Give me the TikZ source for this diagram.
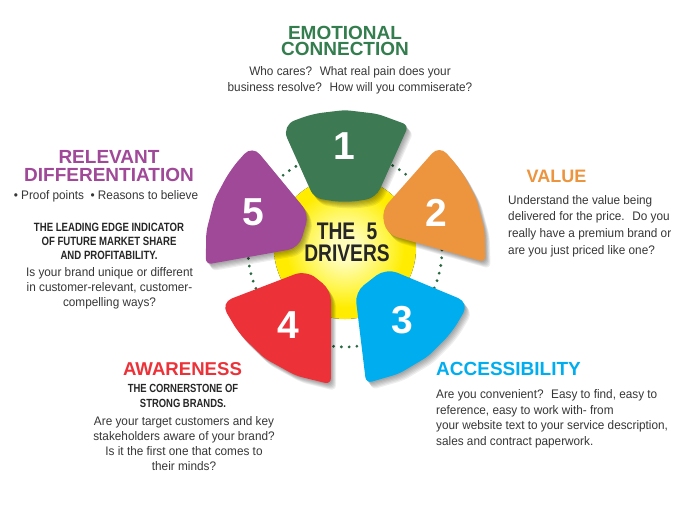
\documentclass[tikz,border=0pt]{standalone}
\usepackage{fontspec}
\setmainfont{Liberation Sans}
\newfontfamily\condfont{Liberation Sans}[FakeStretch=0.8]
\newfontfamily\bodyfont{Liberation Sans}[FakeStretch=0.95]
\definecolor{cgreen}{RGB}{61,122,84}
\definecolor{hgreen}{RGB}{52,125,78}
\definecolor{corange}{RGB}{236,148,62}
\definecolor{cblue}{RGB}{0,174,239}
\definecolor{cred}{RGB}{236,50,56}
\definecolor{cpurple}{RGB}{160,73,152}
\definecolor{cdot}{RGB}{40,105,65}
\definecolor{ctext}{RGB}{55,55,55}
\definecolor{cdark}{RGB}{38,38,38}
\definecolor{yc1}{RGB}{255,253,185}
\definecolor{yc2}{RGB}{255,245,70}
\definecolor{yc3}{RGB}{255,236,0}
\pgfdeclareradialshading{yelshade}{\pgfpoint{0bp}{0bp}}{color(0bp)=(yc1); color(5bp)=(yc1); color(15bp)=(yc2); color(21bp)=(yc3); color(50bp)=(yc3)}
\tikzset{
  num/.style={font=\fontsize{39}{39}\selectfont\bfseries, text=white, inner sep=0pt},
  head/.style={font=\fontsize{19}{19}\selectfont\bfseries, inner sep=0pt},
  body/.style={font=\bodyfont\fontsize{12.4}{16}\selectfont, text=ctext, inner sep=0pt},
  caps/.style={font=\condfont\bfseries\fontsize{12}{14}\selectfont, text=cdark, inner sep=0pt, align=center},
  shadowfill/.style={black, opacity=0.065},
}
\def\petalG{(345,110) [rounded corners=6pt] -- (377.7,113.9) [rounded corners=6pt] -- (408.6,125.3) [rounded corners=10pt] -- (376,198) [rounded corners=14pt] -- (345,203) [rounded corners=8pt] -- (314,198) [rounded corners=14pt] -- (281.4,125.3) [rounded corners=10pt] -- (312.3,113.9) [rounded corners=6pt] -- cycle}
\def\petalO{(476.2,198.3) [rounded corners=6pt] -- (484.6,229.8) [rounded corners=6pt] -- (485.5,262.3) [rounded corners=11pt] -- (386,234) [rounded corners=9pt] -- (382,210) [rounded corners=11pt] -- (439.3,145.2) [rounded corners=13pt] -- (460.9,169.6) [rounded corners=6pt] -- cycle}
\def\petalB{(428.1,356.4) [rounded corners=6pt] -- (398.8,373.8) [rounded corners=6pt] -- (366.1,383.3) [rounded corners=11pt] -- (355,292) [rounded corners=12pt] -- (386,268) [rounded corners=12pt] -- (469.3,302.7) [rounded corners=11pt] -- (452.1,332.2) [rounded corners=6pt] -- cycle}
\def\petalR{(264.7,358.5) [rounded corners=6pt] -- (296.1,375.8) [rounded corners=6pt] -- (330.9,384.3) [rounded corners=11pt] -- (331,290) [rounded corners=12pt] -- (306,270) [rounded corners=12pt] -- (220.7,302.7) [rounded corners=11pt] -- (239.0,333.6) [rounded corners=6pt] -- cycle}
\def\petalP{(214.5,199.3) [rounded corners=6pt] -- (206.2,231.7) [rounded corners=6pt] -- (205.8,264.6) [rounded corners=11pt] -- (299,248) [rounded corners=10pt] -- (309,214) [rounded corners=12pt] -- (252.2,145.1) [rounded corners=13pt] -- (230.3,169.7) [rounded corners=6pt] -- cycle}
\begin{document}
\begin{tikzpicture}[x=1pt,y=-1pt]
\useasboundingbox (0,0) rectangle (693,507);
\fill[white] (0,0) rectangle (693,507);
\coordinate (C) at (345,248);
% dotted ring
\draw[cdot, line width=3.1pt, line cap=round, dash pattern=on 0pt off 7.8pt] (345,250) circle (97);
% yellow hub
\fill[shading=yelshade] (C) circle (71);
% shadows
\foreach \s in {1,...,6} {
  \fill[shadowfill, shift={(\s*0.85,\s*1.1)}] \petalG;
  \fill[shadowfill, shift={(\s*0.85,\s*1.1)}] \petalO;
  \fill[shadowfill, shift={(\s*0.85,\s*1.1)}] \petalB;
  \fill[shadowfill, shift={(\s*0.85,\s*1.1)}] \petalR;
  \fill[shadowfill, shift={(\s*0.85,\s*1.1)}] \petalP;
}
% petals
\fill[cgreen] \petalG;
\fill[corange] \petalO;
\fill[cblue] \petalB;
\fill[cred] \petalR;
\fill[cpurple] \petalP;
% numbers
\node[num] (n1) at (344.5,146.5) {1};
\node[num] (n2) at (436,212.5) {2};
\node[num] (n3) at (402,320) {3};
\node[num] (n4) at (288,325) {4};
\node[num] (n5) at (253,212.5) {5};
% hub text
\node[font=\condfont\bfseries\fontsize{24}{22}\selectfont, text=cdark, inner sep=0pt, align=center, anchor=north] (hub) at (347,222.8) {THE\kern6pt\ 5\\DRIVERS};
% 1 emotional connection
\node[head, text=hgreen, anchor=base] (hEmoA) at (345,39) {EMOTIONAL};
\node[head, text=hgreen, anchor=base] (hEmoB) at (345,55) {CONNECTION};
\node[body, align=center, anchor=north] (tEmo) at (350,66.5) {Who cares?~ What real pain does your\\business resolve?~ How will you commiserate?};
% 2 value
\node[head, font=\fontsize{18}{18}\selectfont\bfseries, text=corange, anchor=base west] (hVal) at (526.5,182) {VALUE};
\node[body, font=\bodyfont\fontsize{12.4}{16.7}\selectfont, align=left, anchor=north west] (tVal) at (508,195) {Understand the value being\\delivered for the price.~ Do you\\really have a premium brand or\\are you just priced like one?};
% 5 relevant differentiation
\node[head, text=cpurple, anchor=base] (hRelA) at (109,163.3) {RELEVANT};
\node[head, text=cpurple, anchor=base] (hRelB) at (109,181.7) {DIFFERENTIATION};
\node[body, anchor=north] (tRel1) at (106,190) {\textbullet\ Proof points~ \textbullet\ Reasons to believe};
\node[caps, anchor=north] (tRel2) at (109,223.3) {THE LEADING EDGE INDICATOR\\OF FUTURE MARKET SHARE\\AND PROFITABILITY.};
\node[body, font=\bodyfont\fontsize{12.4}{15}\selectfont, align=center, anchor=north] (tRel3) at (109.5,267.7) {Is your brand unique or different\\in customer-relevant, customer-\\compelling ways?};
% 4 awareness
\node[head, font=\fontsize{18.6}{18.6}\selectfont\bfseries, text=cred, anchor=base] (hAwa) at (182.5,375) {AWARENESS};
\node[caps, font=\condfont\bfseries\fontsize{11.8}{15}\selectfont, anchor=north] (tAwa1) at (183,384.4) {THE CORNERSTONE OF\\STRONG BRANDS.};
\node[body, font=\bodyfont\fontsize{12.4}{15}\selectfont, align=center, anchor=north] (tAwa2) at (184,416) {Are your target customers and key\\stakeholders aware of your brand?\\Is it the first one that comes to\\their minds?};
% 3 accessibility
\node[head, text=cblue, anchor=base west] (hAcc) at (436,375) {ACCESSIBILITY};
\node[body, font=\bodyfont\fontsize{12.4}{15.5}\selectfont, align=left, anchor=north west] (tAcc) at (436,389.5) {Are you convenient?~ Easy to find, easy to\\reference, easy to work with- from\\your website text to your service description,\\sales and contract paperwork.};
\end{tikzpicture}
\end{document}
